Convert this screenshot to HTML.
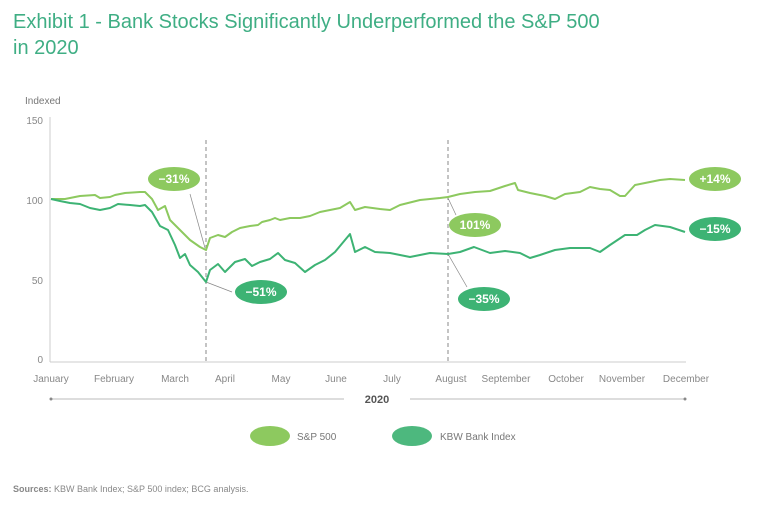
<!DOCTYPE html>
<html><head><meta charset="utf-8"><style>
body{margin:0;background:#fff;width:768px;height:506px;overflow:hidden;font-family:"Liberation Sans",sans-serif;}
</style></head><body>
<svg width="768" height="506" viewBox="0 0 768 506" xmlns="http://www.w3.org/2000/svg" font-family="Liberation Sans, sans-serif">
<text x="13" y="28" font-size="20" fill="#3fae84">Exhibit 1 - Bank Stocks Significantly Underperformed the S&amp;P 500</text>
<text x="13" y="54" font-size="20" fill="#3fae84">in 2020</text>
<text x="25" y="104" font-size="10" fill="#777">Indexed</text>
<g font-size="10" fill="#888" text-anchor="end">
<text x="43" y="124">150</text><text x="43" y="204">100</text><text x="43" y="284">50</text><text x="43" y="363">0</text>
</g>
<line x1="50" y1="117" x2="50" y2="362" stroke="#ccc" stroke-width="1"/>
<line x1="50" y1="362" x2="686" y2="362" stroke="#ccc" stroke-width="1"/>
<line x1="206" y1="140" x2="206" y2="362" stroke="#888" stroke-width="1" stroke-dasharray="4,3"/>
<line x1="448" y1="140" x2="448" y2="362" stroke="#888" stroke-width="1" stroke-dasharray="4,3"/>
<g font-size="10" fill="#888" text-anchor="middle">
<text x="51" y="382">January</text><text x="114" y="382">February</text><text x="175" y="382">March</text><text x="225" y="382">April</text><text x="281" y="382">May</text><text x="336" y="382">June</text><text x="392" y="382">July</text><text x="451" y="382">August</text><text x="506" y="382">September</text><text x="566" y="382">October</text><text x="622" y="382">November</text><text x="686" y="382">December</text>
</g>
<line x1="51" y1="399" x2="344" y2="399" stroke="#bbb"/><line x1="410" y1="399" x2="685" y2="399" stroke="#bbb"/>
<circle cx="51" cy="399" r="1.5" fill="#888"/><circle cx="685" cy="399" r="1.5" fill="#888"/>
<text x="377" y="403" font-size="11" font-weight="bold" fill="#555" text-anchor="middle">2020</text>
<line x1="190" y1="194" x2="205" y2="248" stroke="#888" stroke-width="0.7"/>
<line x1="206" y1="282" x2="232" y2="292" stroke="#888" stroke-width="0.7"/>
<line x1="448" y1="198" x2="456" y2="215" stroke="#888" stroke-width="0.7"/>
<line x1="448" y1="254" x2="467" y2="287" stroke="#888" stroke-width="0.7"/>
<polyline fill="none" stroke="#8dc95f" stroke-width="2" stroke-linejoin="round" points="51,199 65,199 80,196 95,195 100,198 110,197 115,195 125,193 140,192 145,192 152,199 158,210 165,206 170,220 175,225 182,232 190,240 200,247 206,250 210,238 218,235 225,237 232,232 240,228 250,226 258,225 262,222 270,220 275,218 280,220 290,218 300,218 310,216 320,212 330,210 340,208 350,202 355,210 365,207 380,209 390,210 400,205 420,200 440,198 448,197 460,194 475,192 490,191 505,186 515,183 518,190 530,193 545,196 555,199 565,194 580,192 590,187 600,189 610,190 620,196 625,196 635,185 650,182 660,180 670,179 685,180"/>
<polyline fill="none" stroke="#3db374" stroke-width="2" stroke-linejoin="round" points="51,199 60,201 70,203 80,204 90,208 100,210 110,208 118,204 130,205 140,206 145,205 152,212 160,226 168,230 175,245 180,258 185,254 190,265 198,272 206,282 210,270 218,264 225,272 235,262 245,259 252,266 260,262 270,259 278,253 285,260 295,263 305,272 315,265 325,260 335,252 345,240 350,234 355,252 365,247 375,252 390,253 400,255 410,257 420,255 430,253 448,254 460,252 474,247 490,253 505,251 520,253 530,258 540,255 555,250 570,248 590,248 600,252 610,245 625,235 637,235 645,230 655,225 670,227 685,232"/>
<g font-size="12" font-weight="bold" fill="#fff" text-anchor="middle">
<ellipse cx="174" cy="179" rx="26" ry="12" fill="#8dc95f"/><text x="174" y="183">−31%</text>
<ellipse cx="261" cy="292" rx="26" ry="12" fill="#3db374"/><text x="261" y="296">−51%</text>
<ellipse cx="475" cy="225" rx="26" ry="12" fill="#8dc95f"/><text x="475" y="229">101%</text>
<ellipse cx="484" cy="299" rx="26" ry="12" fill="#3db374"/><text x="484" y="303">−35%</text>
<ellipse cx="715" cy="179" rx="26" ry="12" fill="#8dc95f"/><text x="715" y="183">+14%</text>
<ellipse cx="715" cy="229" rx="26" ry="12" fill="#3db374"/><text x="715" y="233">−15%</text>
</g>
<ellipse cx="270" cy="436" rx="20" ry="10" fill="#8dc95f"/>
<text x="297" y="440" font-size="10" fill="#777">S&amp;P 500</text>
<ellipse cx="412" cy="436" rx="20" ry="10" fill="#4db87e"/>
<text x="440" y="440" font-size="10" fill="#777">KBW Bank Index</text>
<text x="13" y="492" font-size="9" fill="#888"><tspan font-weight="bold">Sources:</tspan> KBW Bank Index; S&amp;P 500 index; BCG analysis.</text>
</svg>
</body></html>
